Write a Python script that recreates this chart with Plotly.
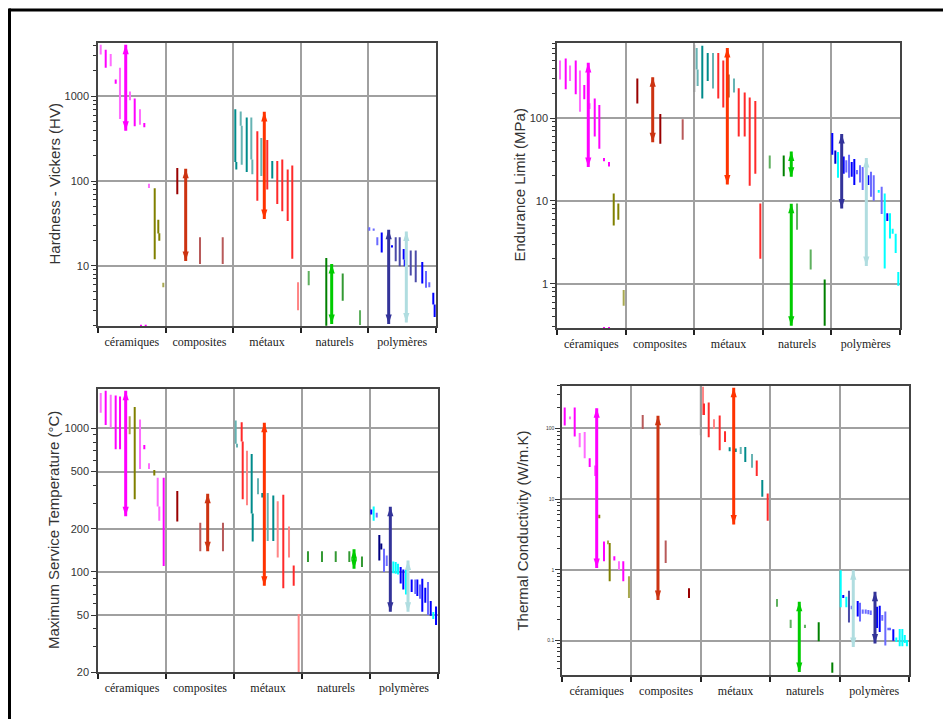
import math
import plotly.graph_objects as go

CATEGORIES = ["céramiques", "composites", "métaux", "naturels", "polymères"]

PALETTE = {
    "magenta": "#ff00ff", "pink": "#ff6cff", "olive": "#808000", "lightolive": "#a8a850",
    "darkred": "#990000", "rosy": "#b85a5a", "teal": "#008b8b", "lightteal": "#66b3b3",
    "red": "#ff2a2a", "salmon": "#ff8585", "grey": "#999999", "brown": "#a0522d",
    "darkgreen": "#008000", "lightgreen": "#5fb05f", "green": "#339933",
    "blue": "#0000ff", "medblue": "#6a6aff", "slate": "#4a4aa8", "darkblue": "#0000cc",
    "navy": "#000080", "cyan": "#00ffff",
    "a_cer": "#ff00ff", "a_comp": "#cc3311", "a_met": "#ff3300", "a_nat": "#00cc00",
    "a_poly1": "#333399", "a_poly2": "#b0dde0",
}

# ---------------- Hardness - Vickers (HV) ----------------
HV_X = [0.04, 0.114, 0.188, 0.262, 0.325, 0.473, 0.543, 0.621, 0.685, 0.754, 0.839, 0.892, 0.907, 0.966, 0.636, 0.706,
        1.173, 1.509, 1.845,
        2.031, 2.046, 2.111, 2.126, 2.2, 2.268, 2.283, 2.357, 2.416, 2.504, 2.578, 2.652, 2.726, 2.806, 2.874, 2.959,
        3.117, 3.377, 3.62, 3.876,
        4.013, 4.078, 4.132, 4.197, 4.349, 4.404, 4.463, 4.522, 4.537, 4.626, 4.7, 4.797, 4.852, 4.901, 4.96, 4.98]
HV_LO = [3100, 2170, 2260, 1410, 540, 900, 442, 461, 430, 83, 12, 24, 19.8, 5.6, 1.9, 1.9,
         70, 10.5, 10.5,
         168, 137, 450, 156, 128, 180, 120, 58.6, 115, 79.4, 107, 53.5, 44, 33.9, 12.1, 3.0,
         5.9, 1.97, 3.87, 2.0,
         25.9, 25.9, 17.5, 14.4, 16.5, 11.3, 9.9, 11.9, 9.9, 7.7, 6.4, 6.2, 5.5, 5.6, 3.5, 2.5]
HV_HI = [4050, 3550, 3160, 1580, 2170, 1135, 940, 705, 483, 93, 82, 35, 24.3, 6.3, 2.02, 2.02,
         142.6, 21.7, 21.7,
         705, 168, 661, 450, 562, 562, 180, 386, 323, 305, 172, 172, 180, 137, 153, 6.4,
         8.7, 12.4, 8.1, 3.0,
         28.6, 27.5, 21.7, 24.8, 17.5, 21.7, 21.7, 15.8, 11.9, 15.2, 15.2, 11.1, 8.7, 6.4, 4.8, 3.5]
HV_C = ["pink", "magenta", "pink", "magenta", "pink", "pink", "magenta", "pink", "magenta", "pink",
        "olive", "olive", "olive", "lightolive", "magenta", "magenta",
        "darkred", "rosy", "rosy",
        "teal", "teal", "lightteal", "lightteal", "teal", "lightteal", "lightteal", "red", "lightteal",
        "red", "teal", "red", "red", "red", "red", "salmon",
        "lightgreen", "darkgreen", "green", "lightgreen",
        "medblue", "medblue", "medblue", "blue", "blue", "slate", "slate", "blue", "blue", "slate", "slate",
        "blue", "medblue", "medblue", "blue", "blue"]
HV_AX = [0.41, 1.297, 2.46, 3.457, 4.3, 4.561]
HV_ALO = [393, 11.4, 35.7, 2.06, 2.06, 2.15]
HV_AHI = [4050, 140, 655, 10.5, 26.6, 25.4]
HV_AC = ["a_cer", "a_comp", "a_met", "a_nat", "a_poly1", "a_poly2"]

# ---------------- Endurance Limit (MPa) ----------------
EL_X = [0.044, 0.127, 0.19, 0.273, 0.335, 0.398, 0.475, 0.55, 0.617, 0.685, 0.758, 0.827, 0.894, 0.972, 0.685, 0.758,
        1.171, 1.506, 1.832,
        2.001, 2.036, 2.05, 2.118, 2.197, 2.274, 2.351, 2.424, 2.503, 2.58, 2.649, 2.736, 2.809, 2.891, 2.964,
        3.101, 3.305, 3.499, 3.698, 3.902,
        4.013, 4.057, 4.096, 4.179, 4.217, 4.257, 4.296, 4.334, 4.373, 4.417, 4.456, 4.538, 4.577, 4.617,
        4.69, 4.733, 4.777, 4.815, 4.854, 4.893, 4.937, 4.975]
EL_LO = [293, 222, 280, 194, 119, 169, 129, 59.7, 42.6, 30, 26, 5.05, 5.9, 0.54, 0.28, 0.28,
         150, 49, 54.6,
         207, 386, 244, 172, 280, 227, 172, 134, 177, 203, 60, 60, 15.2, 21.3, 2.0,
         24.5, 19.8, 4.47, 1.48, 0.31,
         36, 28, 19, 21.3, 22, 19, 19.5, 15.5, 21, 16.7, 13.5, 15.5, 11.2, 10,
         12.5, 6.95, 1.52, 5.7, 3.5, 4.0, 2.35, 0.94]
EL_HI = [495, 524, 431, 495, 376, 251, 151, 172, 144, 33, 29.5, 12.3, 9.3, 0.84, 0.3, 0.3,
         301, 112, 97,
         770, 703, 386, 748, 612, 612, 612, 495, 336, 301, 229, 203, 177, 161, 9.3,
         35.4, 35.4, 9.3, 2.58, 1.12,
         66, 40.6, 38.8, 34.4, 31, 36, 29.5, 32, 23.5, 26.9, 25.7, 20.4, 22.4, 20.4,
         13.5, 14.8, 12.3, 7.1, 7.1, 4.6, 4.0, 1.38]
EL_C = ["pink", "magenta", "pink", "magenta", "pink", "magenta", "pink", "magenta", "magenta", "magenta", "magenta",
        "olive", "olive", "lightolive", "magenta", "magenta",
        "darkred", "darkred", "rosy",
        "grey", "lightteal", "lightteal", "teal", "teal", "lightteal", "red", "red", "brown", "lightteal",
        "red", "red", "red", "red", "red",
        "lightgreen", "darkgreen", "lightgreen", "lightgreen", "darkgreen",
        "blue", "darkblue", "cyan", "blue", "medblue", "medblue", "blue", "blue", "medblue", "medblue", "medblue",
        "blue", "medblue", "medblue", "cyan", "medblue", "cyan", "blue", "cyan", "cyan", "cyan", "cyan"]
EL_AX = [0.456, 1.395, 2.483, 3.415, 3.415, 4.15, 4.509]
EL_ALO = [25.7, 51, 15.8, 19.5, 0.31, 8.1, 1.63]
EL_AHI = [464, 312, 703, 39.4, 9.2, 64, 32.9]
EL_AC = ["a_cer", "a_comp", "a_met", "a_nat", "a_nat", "a_poly1", "a_poly2"]

# ---------------- Maximum Service Temperature (°C) ----------------
MT_X = [0.04, 0.113, 0.187, 0.26, 0.324, 0.466, 0.54, 0.618, 0.681, 0.75, 0.828, 0.878, 0.901, 0.966,
        1.166, 1.504, 1.838,
        2.025, 2.044, 2.113, 2.128, 2.191, 2.26, 2.275, 2.353, 2.416, 2.496, 2.578, 2.643, 2.725, 2.809, 2.878, 2.951,
        3.088, 3.294, 3.496, 3.696, 3.882,
        4.019, 4.054, 4.099, 4.137, 4.166, 4.206, 4.246, 4.343, 4.378, 4.412, 4.451, 4.49, 4.529,
        4.613, 4.666, 4.696, 4.735, 4.769, 4.813, 4.853, 4.893, 4.931, 4.971]
MT_LO = [1283, 1054, 1011, 716, 716, 909, 321, 521, 716, 521, 469, 286, 227, 110,
         224, 139, 139,
         780, 736, 809, 321, 291, 255, 163, 347, 330, 164, 164, 126, 77, 126, 80, 20.1,
         117, 117, 117, 117, 108,
         251, 227, 239, 120, 143, 100, 110, 98, 97, 96, 83, 75.5, 69.7,
         72.5, 70, 68, 65, 52.7, 61, 50, 49.4, 47, 42.7]
MT_HI = [1763, 1828, 1714, 1697, 1670, 1216, 1411, 1154, 767, 571, 513, 452, 286, 452,
         366, 220, 220,
         1135, 780, 1105, 809, 697, 662, 255, 450, 355, 355, 341, 311, 345, 207, 111, 50.8,
         139, 139, 139, 139, 128,
         272, 286, 258, 181, 158, 145, 130, 118, 117, 114, 108, 104, 104,
         88.5, 88.5, 88.5, 81.7, 89.5, 77.6, 85, 62.7, 52.5, 57.4]
MT_C = ["pink", "magenta", "pink", "magenta", "magenta", "lightolive", "olive", "pink", "magenta", "pink",
        "olive", "pink", "pink", "magenta",
        "darkred", "rosy", "rosy",
        "lightteal", "lightteal", "red", "red", "salmon", "teal", "teal", "lightteal", "teal", "lightteal", "teal",
        "salmon", "red", "salmon", "red", "salmon",
        "green", "green", "green", "green", "green",
        "blue", "cyan", "medblue", "navy", "navy", "medblue", "medblue", "cyan", "cyan", "cyan", "blue", "blue",
        "cyan", "blue", "medblue", "blue", "medblue", "blue", "blue", "medblue", "blue", "cyan", "blue"]
MT_AX = [0.407, 1.613, 2.446, 3.765, 4.299, 4.559]
MT_ALO = [244, 139, 80, 105, 52.7, 52.7]
MT_AHI = [1828, 351, 1094, 144, 284, 120]
MT_AC = ["a_cer", "a_comp", "a_met", "a_nat", "a_poly1", "a_poly2"]

# ---------------- Thermal Conductivity (W/m.K) ----------------
TC_X = [0.039, 0.115, 0.183, 0.255, 0.327, 0.399, 0.476, 0.537, 0.605, 0.663, 0.687, 0.754, 0.821, 0.883, 0.965,
        1.163, 1.494, 1.83,
        2.0, 2.032, 2.046, 2.114, 2.19, 2.272, 2.349, 2.416, 2.503, 2.575, 2.641, 2.738, 2.806, 2.886, 2.964,
        3.098, 3.295, 3.501, 3.699, 3.895,
        4.016, 4.053, 4.097, 4.135, 4.174, 4.261, 4.294, 4.333, 4.376, 4.414, 4.449, 4.539, 4.578, 4.615,
        4.659, 4.702, 4.726, 4.774, 4.817, 4.866, 4.904, 4.939, 4.97]
TC_LO = [110, 135, 77, 54, 38, 28.4, 21.2, 5.35, 1.32, 2.3, 0.69, 1.36, 1.0, 0.69, 0.40,
         98, 1.25, 0.40,
         80, 155, 155, 75, 98, 49, 64, 47.5, 46.5, 43.6, 33.4, 27.7, 21.2, 10.8, 4.96,
         0.30, 0.150, 0.150, 0.098, 0.035,
         0.295, 0.40, 0.295, 0.18, 0.277, 0.219, 0.186, 0.24, 0.24, 0.235, 0.23, 0.150, 0.132, 0.19,
         0.085, 0.14, 0.14, 0.099, 0.095, 0.083, 0.083, 0.092, 0.083]
TC_HI = [197, 147, 197, 86, 89, 38, 30, 6.0, 2.52, 2.6, 2.39, 1.55, 1.32, 1.32, 0.81,
         155, 2.6, 0.55,
         400, 388, 226, 232, 135, 152, 91, 54, 52, 54.7, 54.7, 43.6, 35.2, 18.6, 12,
         0.387, 0.196, 0.167, 0.182, 0.049,
         0.99, 0.44, 0.417, 0.506, 0.31, 0.363, 0.343, 0.275, 0.275, 0.27, 0.265, 0.30, 0.31, 0.23,
         0.257, 0.152, 0.152, 0.144, 0.11, 0.145, 0.145, 0.12, 0.102]
TC_C = ["magenta", "pink", "magenta", "pink", "pink", "magenta", "pink", "olive", "magenta", "lightolive", "olive",
        "magenta", "pink", "magenta", "lightolive",
        "rosy", "rosy", "darkred",
        "grey", "salmon", "red", "red", "salmon", "red", "red", "teal", "teal", "lightteal", "teal", "lightteal",
        "red", "teal", "red",
        "lightgreen", "lightgreen", "lightgreen", "darkgreen", "darkgreen",
        "cyan", "blue", "cyan", "slate", "medblue", "blue", "medblue", "medblue", "medblue", "medblue", "medblue",
        "blue", "blue", "medblue", "medblue", "medblue", "medblue", "blue", "cyan", "cyan", "cyan", "cyan", "cyan"]
TC_AX = [0.5, 1.383, 2.474, 3.419, 4.197, 4.51]
TC_ALO = [1.06, 0.375, 4.36, 0.0358, 0.081, 0.091]
TC_AHI = [193, 151, 376, 0.355, 0.99, 0.49]
TC_AC = ["a_cer", "a_comp", "a_met", "a_nat", "a_poly2", "a_poly1"]

# page has an 8px body margin: figure placed at (8, 8)
OFF = 8
W, H = 951 - OFF, 719 - OFF


def px_x(px):
    return (px - OFF) / W


def px_y(py):
    return 1 - (py - OFF) / H


PANELS = [
    dict(title="Hardness - Vickers (HV)", box=(98, 436, 43, 329), yr=(0.287, 3.632),
         ticks=[10, 100, 1000], tfs=11, tx=54,
         data=(HV_X, HV_LO, HV_HI, HV_C, HV_AX, HV_ALO, HV_AHI, HV_AC)),
    dict(title="Endurance Limit (MPa)", box=(557, 900, 43, 331), yr=(-0.539, 2.91),
         ticks=[1, 10, 100], tfs=11, tx=519,
         data=(EL_X, EL_LO, EL_HI, EL_C, EL_AX, EL_ALO, EL_AHI, EL_AC)),
    dict(title="Maximum Service Temperature (°C)", box=(98, 438, 392, 678), yr=(1.3, 3.276),
         ticks=[20, 50, 100, 200, 500, 1000], tfs=11, tx=53.5,
         data=(MT_X, MT_LO, MT_HI, MT_C, MT_AX, MT_ALO, MT_AHI, MT_AC)),
    dict(title="Thermal Conductivity (W/m.K)", box=(562, 909, 389, 681), yr=(-1.492, 2.603),
         ticks=[0.1, 1, 10, 100], tfs=5, tx=523,
         data=(TC_X, TC_LO, TC_HI, TC_C, TC_AX, TC_ALO, TC_AHI, TC_AC)),
]

fig = go.Figure()
layout = dict(width=W, height=H, margin=dict(l=0, r=0, t=0, b=0), paper_bgcolor="white",
              plot_bgcolor="white", showlegend=False, annotations=[], shapes=[])

for i, p in enumerate(PANELS, start=1):
    sfx = "" if i == 1 else str(i)
    xa, ya = "x" + sfx, "y" + sfx
    x0, x1, y0, y1 = p["box"]
    xs, los, his, cs, axs, alos, ahis, acs = p["data"]
    # bars grouped by colour
    for col in dict.fromkeys(cs):
        bx, by = [], []
        for x, lo, hi, c in zip(xs, los, his, cs):
            if c == col:
                bx += [x, x, None]
                by += [lo, hi, None]
        fig.add_trace(go.Scatter(x=bx, y=by, mode="lines", xaxis=xa, yaxis=ya,
                                 line=dict(color=PALETTE[col], width=2), hoverinfo="skip"))
    # double arrows
    for x, lo, hi, c in zip(axs, alos, ahis, acs):
        fig.add_trace(go.Scatter(x=[x, x], y=[lo, hi], mode="lines+markers", xaxis=xa, yaxis=ya,
                                 line=dict(color=PALETTE[c], width=3),
                                 marker=dict(symbol="arrow", size=10, angle=[180, 0], color=PALETTE[c]),
                                 hoverinfo="skip"))
    # minor log ticks
    lo_d, hi_d = p["yr"]
    minor = []
    for k in range(int(lo_d) - 2, int(hi_d) + 2):
        for m in range(1, 10):
            v = m * 10 ** k
            if lo_d <= math.log10(v) <= hi_d and not any(abs(v - t) < 1e-9 * t for t in p["ticks"]):
                minor.append(v)
    layout["xaxis" + sfx] = dict(
        domain=[px_x(x0), px_x(x1)], range=[0, 5], anchor=ya,
        tickvals=[0.5, 1.5, 2.5, 3.5, 4.5], ticktext=CATEGORIES, ticks="", showgrid=False,
        tickfont=dict(family="Liberation Serif", size=12, color="#222"), ticklabelstandoff=4,
        showline=True, linecolor="#444", linewidth=1.5, mirror=True, zeroline=False,
        minor=dict(tickvals=[0, 1, 2, 3, 4, 5], ticks="outside", ticklen=5, tickwidth=1.5, tickcolor="#222",
                   showgrid=True, gridcolor="#a0a0a0", gridwidth=1.5),
    )
    layout["yaxis" + sfx] = dict(
        domain=[px_y(y1), px_y(y0)], type="log", range=list(p["yr"]), anchor=xa,
        tickvals=p["ticks"], ticktext=[f"{t:g}" for t in p["ticks"]], ticks="outside", ticklen=5,
        tickcolor="#333", tickfont=dict(family="Liberation Sans", size=p["tfs"], color="#333"),
        showgrid=True, gridcolor="#a0a0a0", gridwidth=1.5,
        showline=True, linecolor="#444", linewidth=1.5, mirror=True, zeroline=False,
        minor=dict(tickvals=minor, ticks="outside", ticklen=3, tickcolor="#333", showgrid=False),
    )
    layout["annotations"].append(dict(
        text=p["title"], xref="paper", yref="paper", x=px_x(p["tx"]), y=px_y((y0 + y1) / 2),
        textangle=-90, showarrow=False, xanchor="center", yanchor="middle",
        font=dict(family="Liberation Sans", size=15, color="#333")))

# outer frame (top and left black borders)
layout["shapes"] += [
    dict(type="line", xref="paper", yref="paper", x0=px_x(9), x1=1.05, y0=px_y(10), y1=px_y(10),
         line=dict(color="black", width=3)),
    dict(type="line", xref="paper", yref="paper", x0=px_x(9.5), x1=px_x(9.5), y0=px_y(8.5), y1=-0.05,
         line=dict(color="black", width=3)),
]

fig.update_layout(**layout)
fig.write_html("out.html")
